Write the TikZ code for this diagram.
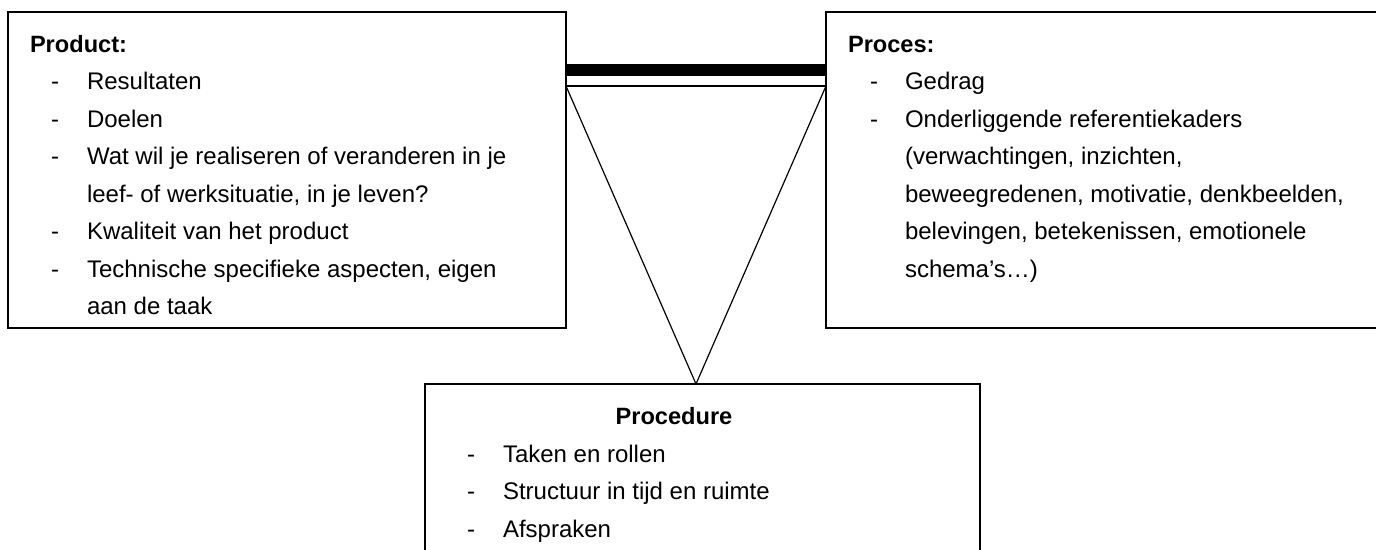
\documentclass[tikz,border=0pt]{standalone}
\usepackage{fontspec}
\setmainfont{Liberation Sans}
\usetikzlibrary{calc}
\begin{document}
\begin{tikzpicture}[x=0.5pt,y=-0.5pt,
  every node/.style={inner sep=0pt,outer sep=0pt},
  boxA/.style={draw=black,line width=0.8pt,rectangle},
  boxB/.style={draw=black,line width=1.1pt,rectangle},
  txt/.style={anchor=base west,font=\fontsize{12}{14}\selectfont},
  hd/.style={anchor=base west,font=\fontsize{11.8}{14}\selectfont\bfseries},
  dsh/.style={anchor=base west,font=\fontsize{12}{14}\selectfont},
  bar/.style={line width=6pt,black},
  thin/.style={line width=0.7pt,black},
  tri/.style={line width=0.6pt,black}]
\useasboundingbox (0,0) rectangle (1376,550);
\fill[white] (0,0) rectangle (1376,550);
% boxes
\node[boxA,minimum width=279pt,minimum height=158pt] (lbox) at (287,170) {};
\node[boxA,minimum width=287pt,minimum height=158pt] (rbox) at (1113,170) {};
\node[boxB,minimum width=277.5pt,minimum height=108pt] (bbox) at (702.5,492) {};
\coordinate (apex) at (696,384);
% connectors
\draw[bar] ($(lbox.north east)+(0,58)$) -- ($(rbox.north west)+(0,58)$);
\coordinate (tl) at ($(lbox.north east)+(0,74)$);
\coordinate (tr) at ($(rbox.north west)+(0,74)$);
\draw[thin] (tl) -- (tr);
\draw[tri] (tl) -- (apex) -- (tr);
% left text
\node[hd] (lh) at (30,52.5) {Product:};
\node[dsh] (ld1) at (51,90) {-};
\node[txt] (lt1) at (87,90) {Resultaten};
\node[dsh] (ld2) at (51,127.5) {-};
\node[txt] (lt2) at (87,127.5) {Doelen};
\node[dsh] (ld3) at (51,165) {-};
\node[txt] (lt3) at (87,165) {Wat wil je realiseren of veranderen in je};
\node[txt] (lt3b) at (87,202.5) {leef- of werksituatie, in je leven?};
\node[dsh] (ld4) at (51,240) {-};
\node[txt] (lt4) at (87,240) {Kwaliteit van het product};
\node[dsh] (ld5) at (51,277.5) {-};
\node[txt] (lt5) at (87,277.5) {Technische specifieke aspecten, eigen};
\node[txt] (lt5b) at (87,315) {aan de taak};
% right text
\node[hd] (rh) at (848,52.5) {Proces:};
\node[dsh] (rd1) at (870,90) {-};
\node[txt] (rt1) at (905,90) {Gedrag};
\node[dsh] (rd2) at (870,127.5) {-};
\node[txt] (rt2) at (905,127.5) {Onderliggende referentiekaders};
\node[txt] (rt2b) at (905,165) {(verwachtingen, inzichten,};
\node[txt] (rt2c) at (905,202.5) {beweegredenen, motivatie, denkbeelden,};
\node[txt] (rt2d) at (905,240) {belevingen, betekenissen, emotionele};
\node[txt] (rt2e) at (905,277.5) {schema’s…)};
% bottom text
\node[hd,anchor=base] (bh) at (674,425) {Procedure};
\node[dsh] (bd1) at (467,462.5) {-};
\node[txt] (bt1) at (503,462.5) {Taken en rollen};
\node[dsh] (bd2) at (467,500) {-};
\node[txt] (bt2) at (503,500) {Structuur in tijd en ruimte};
\node[dsh] (bd3) at (467,537.5) {-};
\node[txt] (bt3) at (503,537.5) {Afspraken};
\end{tikzpicture}
\end{document}
